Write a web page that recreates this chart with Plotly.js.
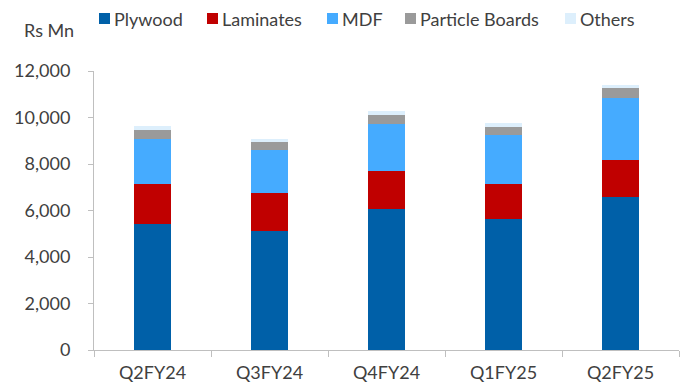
<!DOCTYPE html>
<html>
<head>
<meta charset="utf-8">
<script src="https://cdn.plot.ly/plotly-3.0.1.min.js"></script>
<style>html,body{margin:0;padding:0;background:#fff;}#chart{width:681px;height:389px;}</style>
</head>
<body>
<div id="chart"></div>
<script>
const categories = ["Q2FY24", "Q3FY24", "Q4FY24", "Q1FY25", "Q2FY25"];
const plywood = [5410, 5105, 6050, 5620, 6570];
const laminates = [1720, 1635, 1660, 1530, 1590];
const mdf = [1960, 1850, 2000, 2100, 2690];
const particleBoards = [370, 370, 400, 350, 400];
const others = [170, 130, 160, 150, 160];
const seriesNames = ["Plywood", "Laminates", "MDF", "Particle Boards", "Others"];
const unitLabel = "Rs Mn";

const colors = ["#0060A8", "#C00000", "#45ABFF", "#9A9A9A", "#DDEFFC"];
const seriesValues = [plywood, laminates, mdf, particleBoards, others];

const traces = seriesValues.map((vals, i) => ({
  type: "bar",
  name: seriesNames[i],
  x: categories,
  y: vals,
  marker: {color: colors[i]},
  hoverinfo: "name+y"
}));

// plot area in pixels
const W = 681, H = 389;
const mL = 94, mR = 2, mT = 71, mB = 39;
const pw = W - mL - mR, ph = H - mT - mB;
const px = v => (v - mL) / pw;
const py = v => (H - mB - v) / ph;

const FONT = "Lato";
const legendSquareX = [99, 207, 327, 405, 565];
const legendY = 18.5, sq = 11;
const shapes = legendSquareX.map((x, i) => ({
  type: "rect", xref: "paper", yref: "paper",
  x0: px(x), x1: px(x + sq), y0: py(legendY + sq / 2), y1: py(legendY - sq / 2),
  fillcolor: colors[i], line: {width: 0}
}));
const annotations = legendSquareX.map((x, i) => ({
  xref: "paper", yref: "paper", x: px(x + sq + 2), y: py(legendY + 0.5),
  xanchor: "left", yanchor: "middle", showarrow: false,
  text: seriesNames[i], font: {family: FONT, size: 18, color: "#404040"}
}));
annotations.push({
  xref: "paper", yref: "paper", x: px(22), y: py(30),
  xanchor: "left", yanchor: "middle", showarrow: false,
  text: unitLabel, font: {family: FONT, size: 18, color: "#404040"}
});

const layout = {
  width: W, height: H,
  margin: {l: mL, r: mR, t: mT, b: mB, pad: 0},
  barmode: "stack",
  bargap: 0.684,
  showlegend: false,
  paper_bgcolor: "#fff", plot_bgcolor: "#fff",
  font: {family: FONT, size: 18, color: "#404040"},
  xaxis: {
    showline: true, linecolor: "#BFBFBF", linewidth: 1,
    ticks: "outside", tickson: "boundaries", ticklen: 6, tickcolor: "#BFBFBF",
    ticklabelstandoff: 6,
    showgrid: false, zeroline: false,
    tickfont: {family: FONT, size: 18, color: "#404040"}
  },
  yaxis: {
    range: [0, 12000], dtick: 2000, tickformat: ",",
    showline: true, linecolor: "#BFBFBF", linewidth: 1,
    ticks: "outside", ticklen: 5, tickcolor: "#BFBFBF",
    ticklabelstandoff: 14,
    showgrid: false, zeroline: false,
    tickfont: {family: FONT, size: 18, color: "#404040"}
  },
  shapes: shapes,
  annotations: annotations
};

Plotly.newPlot("chart", traces, layout, {displayModeBar: false, staticPlot: true});
</script>
</body>
</html>
